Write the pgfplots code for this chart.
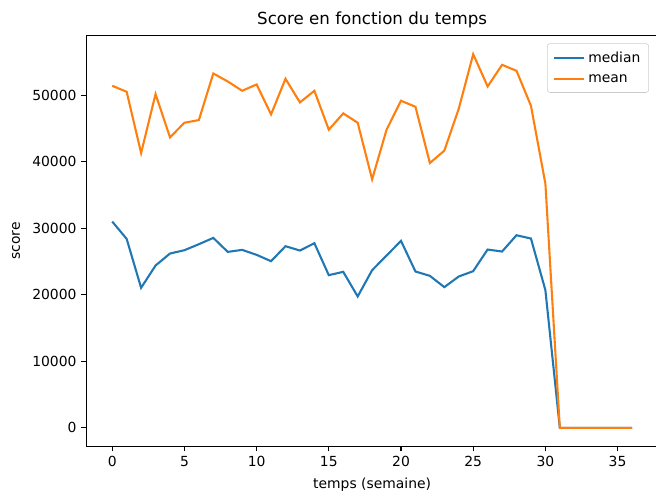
\documentclass[border=0pt]{standalone}
\usepackage{fontspec}
\setmainfont{DejaVu Sans}
\usepackage{pgfplots}
\pgfplotsset{compat=1.18}
\definecolor{mplblue}{HTML}{1F77B4}
\definecolor{mplorange}{HTML}{FF7F0E}
\begin{document}
\begin{tikzpicture}
\begin{axis}[
  scale only axis,
  width=411.7pt, height=296.2pt,
  xmin=-1.8, xmax=37.8,
  ymin=-2810, ymax=58990,
  xtick={0,5,...,35},
  ytick={0,10000,...,50000},
  scaled y ticks=false,
  /pgf/number format/.cd, 1000 sep={}, assume math mode=true,
  /pgfplots/.cd,
  tick align=outside,
  major tick length=3.5pt,
  every tick/.style={black, line width=0.8pt},
  axis line style={line width=0.8pt},
  xtick pos=bottom, ytick pos=left,
  tick label style={font=\fontsize{10}{12}\selectfont},
  title={Score en fonction du temps},
  title style={font=\fontsize{12}{14}\selectfont, at={(0.5,1)}, anchor=south, yshift=-4pt},
  xlabel={temps (semaine)},
  ylabel={score},
  label style={font=\fontsize{10}{12}\selectfont},
  xlabel style={yshift=-1pt},
  ylabel style={yshift=2pt},
  legend style={at={(1,1)}, anchor=north east, xshift=-6.5pt, yshift=-5.8pt,
    draw=black!20, rounded corners=2pt, font=\fontsize{10}{12}\selectfont,
    inner xsep=4pt, inner ysep=4pt, row sep=3pt},
  legend cell align=left,
  legend image code/.code={\draw[#1] (0pt,0pt) -- (22pt,0pt);},
]
\coordinate (sw) at (rel axis cs:0,0);
\coordinate (ne) at (rel axis cs:1,1);
\addplot[mplblue, line width=1.5pt] coordinates {
(0,31000) (1,28400) (2,21050) (3,24400) (4,26200) (5,26700) (6,27600) (7,28550)
(8,26450) (9,26750) (10,26000) (11,25050) (12,27300) (13,26650) (14,27750) (15,22950)
(16,23450) (17,19750) (18,23700) (19,25900) (20,28100) (21,23500) (22,22850) (23,21150)
(24,22750) (25,23550) (26,26800) (27,26500) (28,28950) (29,28450) (30,20700) (31,0)
(32,0) (33,0) (34,0) (35,0) (36,0)};
\addlegendentry{median}
\addplot[mplorange, line width=1.5pt] coordinates {
(0,51400) (1,50500) (2,41300) (3,50150) (4,43650) (5,45850) (6,46250) (7,53250)
(8,52050) (9,50650) (10,51600) (11,47100) (12,52450) (13,48900) (14,50650) (15,44800)
(16,47250) (17,45850) (18,37350) (19,44800) (20,49150) (21,48250) (22,39800) (23,41650)
(24,47950) (25,56150) (26,51300) (27,54550) (28,53650) (29,48400) (30,36700) (31,0)
(32,0) (33,0) (34,0) (35,0) (36,0)};
\addlegendentry{mean}
\end{axis}
\pgfresetboundingbox
\path[use as bounding box] ([xshift=-62.1pt,yshift=-31.9pt]sw) rectangle ([xshift=-1.44pt,yshift=25.4pt]ne);
\end{tikzpicture}
\end{document}
